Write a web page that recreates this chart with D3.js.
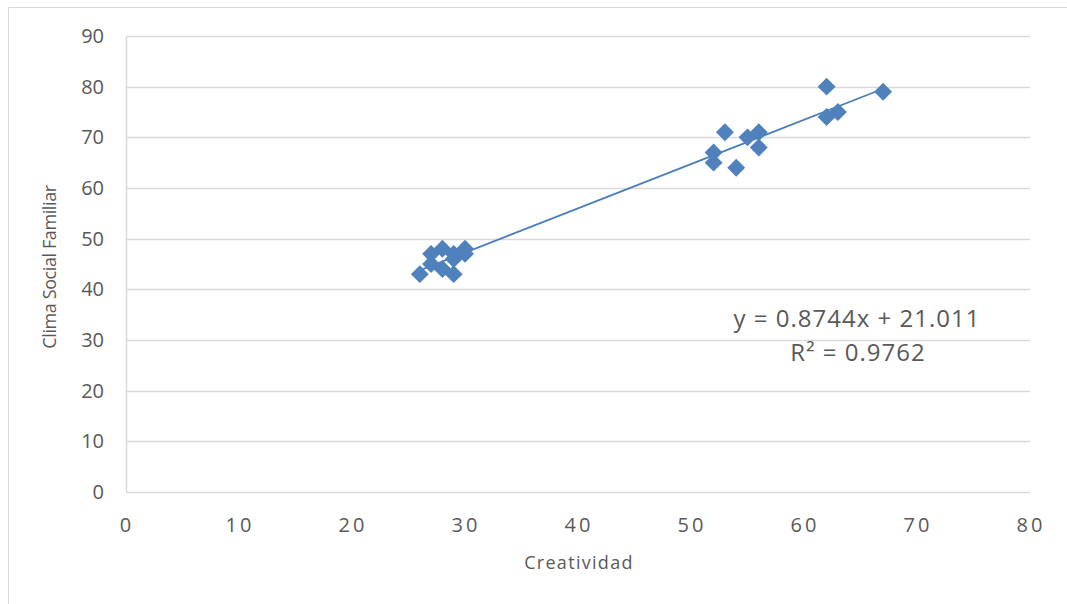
<!DOCTYPE html>
<html><head><meta charset="utf-8">
<script src="https://cdn.jsdelivr.net/npm/d3@7"></script>
<style>body{margin:0;background:#fff}svg{display:block}</style>
</head><body>
<script>
const creatividad = [26,27,27,28,28,29,29,29,30,30,52,52,53,54,55,56,56,62,62,63,67];
const climaSocial = [43,47,45,48,44,47,43,46,48,47,67,65,71,64,70,71,68,80,74,75,79];
const xTicks = [0,10,20,30,40,50,60,70,80];
const yTicks = [0,10,20,30,40,50,60,70,80,90];
const slope = 0.8744, intercept = 21.011;
const eqLabel = "y = 0.8744x + 21.011";
const r2Label = "R² = 0.9762";
const xTitle = "Creatividad", yTitle = "Clima Social Familiar";

const W=1067,H=604;
const svg=d3.select("body").append("svg").attr("width",W).attr("height",H);
const font="'Open Sans', 'Liberation Sans', sans-serif";
// outer border
svg.append("path").attr("d","M8.5,604 L8.5,7.5 L1067,7.5").attr("fill","none").attr("stroke","#d9d9d9").attr("stroke-width",1);

const x=d3.scaleLinear().domain([0,80]).range([126,1030]);
const y=d3.scaleLinear().domain([0,90]).range([492,36]);

// gridlines
svg.append("g").selectAll("line").data(yTicks).join("line")
 .attr("x1",x(0)).attr("x2",x(80)).attr("y1",d=>Math.round(y(d))+0.5).attr("y2",d=>Math.round(y(d))+0.5)
 .attr("stroke","#d9d9d9").attr("stroke-width",1.5);
svg.append("line").attr("x1",x(0)+0.5).attr("x2",x(0)+0.5).attr("y1",y(90)).attr("y2",y(0))
 .attr("stroke","#d9d9d9").attr("stroke-width",1.5);

const tickStyle=s=>s.attr("fill","#595959").attr("font-family",font);
svg.append("g").selectAll("text").data(yTicks).join("text")
 .attr("x",104).attr("y",d=>y(d)+7).attr("text-anchor","end").attr("font-size",20).text(d=>d).call(tickStyle);
svg.append("g").selectAll("text").data(xTicks).join("text")
 .attr("x",d=>x(d)+1).attr("y",532).attr("text-anchor","middle").attr("font-size",20).attr("letter-spacing","3px").text(d=>d).call(tickStyle);

svg.append("text").attr("x",579).attr("y",569).attr("text-anchor","middle").attr("font-size",18).attr("letter-spacing","1.3px").text(xTitle).call(tickStyle);
svg.append("text").attr("transform",`translate(56,267) rotate(-90)`).attr("text-anchor","middle").attr("font-size",18).attr("letter-spacing","-0.4px").text(yTitle).call(tickStyle);

// trendline
const xs=d3.extent(creatividad);
svg.append("line").attr("x1",x(xs[0])).attr("y1",y(slope*xs[0]+intercept))
 .attr("x2",x(xs[1])).attr("y2",y(slope*xs[1]+intercept))
 .attr("stroke","#4a7ebb").attr("stroke-width",1.8);

// points
const sym=d3.symbol().type(d3.symbolSquare).size(160);
svg.append("g").selectAll("path").data(creatividad.map((c,i)=>[c,climaSocial[i]])).join("path")
 .attr("d",sym).attr("transform",d=>`translate(${x(d[0])},${y(d[1])}) rotate(45)`)
 .attr("fill","#4f81bd");

svg.append("text").attr("x",857).attr("y",327).attr("text-anchor","middle").attr("letter-spacing","1px").text(eqLabel)
 .attr("fill","#595959").attr("font-family",font).attr("font-size",24);
svg.append("text").attr("x",858).attr("y",361).attr("text-anchor","middle").attr("letter-spacing","1px").text(r2Label)
 .attr("fill","#595959").attr("font-family",font).attr("font-size",24);
</script>
</body></html>
